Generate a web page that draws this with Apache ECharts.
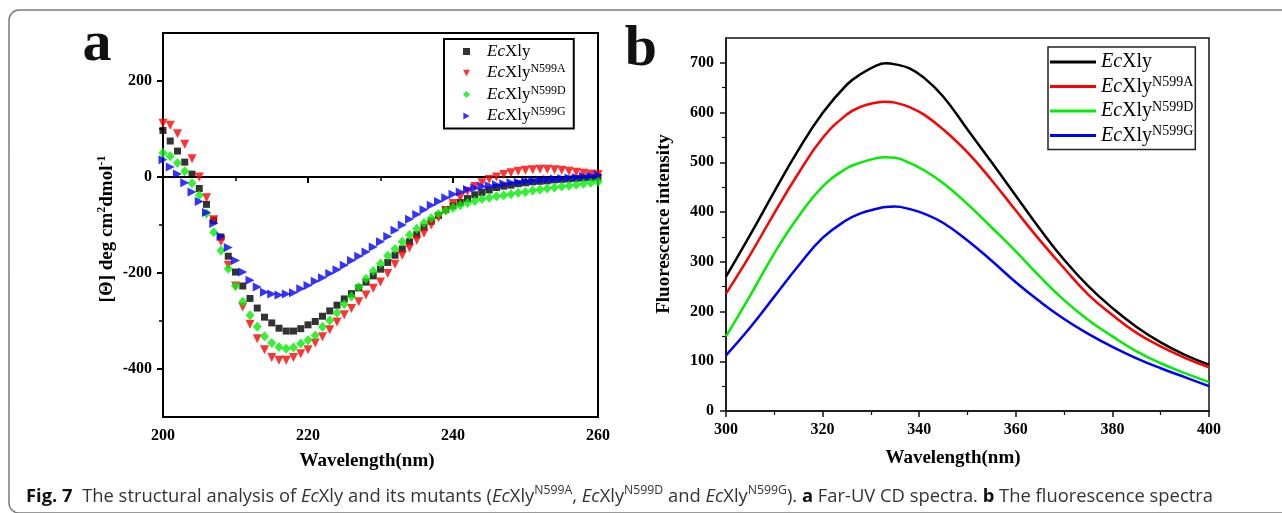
<!DOCTYPE html>
<html><head><meta charset="utf-8">
<script src="https://cdn.jsdelivr.net/npm/echarts@6/dist/echarts.min.js"></script>
<style>html,body{margin:0;padding:0;background:#fff}#c{width:1282px;height:513px}</style>
</head><body><div id="c"></div>
<script>
// ---------- Panel a: Far-UV CD spectra ----------
const cdWavelength = [200,201,202,203,204,205,206,207,208,209,210,211,212,213,214,215,216,217,218,219,220,221,222,223,224,225,226,227,228,229,230,231,232,233,234,235,236,237,238,239,240,241,242,243,244,245,246,247,248,249,250,251,252,253,254,255,256,257,258,259,260];
const cdEcXly = [97,75,54,31,6,-24,-57,-90,-125,-165,-198,-227,-253,-273,-292,-304,-315,-321,-321,-316,-308,-301,-290,-279,-267,-254,-243,-231,-219,-206,-192,-178,-163,-150,-135,-120,-105,-92,-80,-68,-60,-53,-45,-37,-32,-27,-22,-19,-17,-14,-12,-10,-9,-8,-6,-5,-4,-3,-2,-1,0];
const cdN599A = [112,108,90,68,38,0,-43,-89,-135,-184,-227,-271,-307,-337,-360,-376,-382,-382,-376,-368,-360,-346,-333,-318,-302,-287,-274,-260,-246,-232,-219,-201,-182,-163,-148,-132,-117,-100,-85,-70,-55,-42,-30,-20,-12,-5,0,5,9,12,14,15,16,16,15,14,12,10,8,6,5];
const cdN599D = [50,43,29,12,-13,-38,-76,-115,-153,-191,-227,-260,-288,-312,-332,-346,-354,-358,-355,-347,-340,-330,-312,-299,-283,-265,-249,-229,-212,-196,-180,-164,-150,-135,-121,-108,-96,-86,-77,-70,-64,-59,-54,-50,-46,-43,-40,-38,-36,-33,-31,-28,-26,-24,-22,-20,-18,-16,-14,-12,-10];
const cdN599G = [36,21,6,-12,-31,-51,-74,-97,-124,-147,-174,-198,-215,-229,-240,-244,-246,-244,-241,-233,-226,-217,-210,-201,-193,-184,-174,-165,-156,-146,-135,-124,-111,-100,-88,-78,-68,-59,-51,-43,-36,-31,-26,-23,-20,-18,-16,-14,-12,-11,-9,-8,-6,-5,-4,-3,-2,-1,1,2,4];
const cdYTicks = [-400,-200,0,200];
const cdYMinorTicks = [-300,-100,100];

// ---------- Panel b: fluorescence spectra ----------
const flWavelength = [300,305,310,315,320,325,328,331,333,335,338,341,345,350,355,360,365,370,375,380,385,390,395,400];
const flEcXly = [270,354,441,525,599,656,678,694,699,697,689,670,632,566,500,433,366,304,251,207,169,138,113,93];
const flN599A = [236,314,398,478,549,596,612,620,622,620,611,596,566,520,464,403,343,287,234,193,157,130,107,88];
const flN599D = [150,232,317,391,451,488,500,508,510,509,499,484,458,416,369,321,270,223,183,150,120,96,76,58];
const flN599G = [112,168,230,292,348,384,398,406,410,411,406,397,378,343,302,259,220,185,155,129,106,86,68,50];
const flYTicks = [0,100,200,300,400,500,600,700];
const flYMinorTicks = [50,150,250,350,450,550,650];

const seriesSup = ['', 'N599A', 'N599D', 'N599G'];
const cdNames = ['a EcXly', 'a EcXly N599A', 'a EcXly N599D', 'a EcXly N599G'];
const flNames = ['b EcXly', 'b EcXly N599A', 'b EcXly N599D', 'b EcXly N599G'];
const colors = ['#000000', '#ff0000', '#00ee00', '#0000ff'];

const SERIF = '"Liberation Serif", "Times New Roman", serif';

function legendLabel(i, spacer) {
  return (spacer ? '{g| }' : '') + '{i|Ec}{n|Xly}' + (seriesSup[i] ? '{s|' + seriesSup[i] + '}' : '');
}
function pairs(xs, ys) { return xs.map((x, i) => [x, ys[i]]); }

const tickLabel = { fontFamily: SERIF, fontWeight: 'bold', fontSize: 16, color: '#000' };

// caption segments
const captionSegs = [
  ['fb', 'Fig. 7'], ['', '  The structural analysis of '], ['it', 'Ec'], ['', 'Xly and its mutants ('],
  ['it', 'Ec'], ['', 'Xly'], ['sup', 'N599A'], ['', ', '], ['it', 'Ec'], ['', 'Xly'], ['sup', 'N599D'],
  ['', ' and '], ['it', 'Ec'], ['', 'Xly'], ['sup', 'N599G'], ['', '). '], ['b', 'a'], ['', ' Far-UV CD spectra. '],
  ['b', 'b'], ['', ' The fluorescence spectra']
];
const capFonts = {
  '': '18px "Open Sans"', fb: 'bold 18px "Open Sans"', b: 'bold 18px "Open Sans"',
  it: 'italic 18px "Open Sans"', sup: '12px "Open Sans"'
};
const mctx = document.createElement('canvas').getContext('2d');
let capWidth = 0;
captionSegs.forEach(([s, t]) => { mctx.font = capFonts[s]; capWidth += mctx.measureText(t).width; });
const capScale = 1187 / capWidth;
const captionText = captionSegs.map(([s, t]) => s ? '{' + s + '|' + t + '}' : t).join('');

const chart = echarts.init(document.getElementById('c'), null, { renderer: 'canvas' });

const scatterSymbols = [
  { symbol: 'rect', symbolSize: 7, symbolRotate: 0, icon: 'rect' },
  { symbol: 'triangle', symbolSize: 9, symbolRotate: 180, icon: 'path://M0,0L10,0L5,9Z' },
  { symbol: 'diamond', symbolSize: [9, 10], symbolRotate: 0, icon: 'diamond' },
  { symbol: 'triangle', symbolSize: 9, symbolRotate: -90, icon: 'path://M0,0L9,5L0,10Z' }
];
const cdData = [cdEcXly, cdN599A, cdN599D, cdN599G];
const flData = [flEcXly, flN599A, flN599D, flN599G];

const series = [];
cdData.forEach((vals, i) => {
  series.push({
    type: 'scatter', name: cdNames[i], xAxisIndex: 0, yAxisIndex: 0,
    data: pairs(cdWavelength, vals),
    symbol: scatterSymbols[i].symbol, symbolSize: scatterSymbols[i].symbolSize,
    symbolRotate: scatterSymbols[i].symbolRotate,
    itemStyle: { color: colors[i] }, silent: true
  });
});
flData.forEach((vals, i) => {
  series.push({
    type: 'line', name: flNames[i], xAxisIndex: 1, yAxisIndex: 2,
    data: pairs(flWavelength, vals), smooth: 0.45, symbol: 'none', showSymbol: false,
    lineStyle: { color: colors[i], width: 2.5 }, itemStyle: { color: colors[i] }, silent: true
  });
});

const axisBase = {
  axisLine: { show: true, lineStyle: { color: '#000', width: 2 } },
  splitLine: { show: false },
  minorSplitLine: { show: false }
};

chart.setOption({
  animation: false,
  backgroundColor: '#fff',
  grid: [
    { left: 163, top: 33, width: 435, height: 384, show: true, borderColor: '#000', borderWidth: 2, backgroundColor: 'transparent' },
    { left: 726, top: 38, width: 483, height: 373, show: true, borderColor: '#111', borderWidth: 1.5, backgroundColor: 'transparent' }
  ],
  xAxis: [
    Object.assign({}, axisBase, {
      type: 'value', gridIndex: 0, min: 200, max: 260, interval: 20,
      axisTick: { show: true, inside: false, length: 6, lineStyle: { color: '#000', width: 2 } },
      minorTick: { show: true, splitNumber: 2, length: 4, lineStyle: { color: '#000', width: 1.5 } },
      axisLabel: Object.assign({ margin: 11 }, tickLabel)
    }),
    Object.assign({}, axisBase, {
      type: 'value', gridIndex: 1, min: 300, max: 400, interval: 20,
      axisLine: { show: true, lineStyle: { color: '#111', width: 1.5 } },
      axisTick: { show: true, inside: false, length: 6, lineStyle: { color: '#111', width: 1.5 } },
      minorTick: { show: true, splitNumber: 2, length: 4, lineStyle: { color: '#111', width: 1.2 } },
      axisLabel: Object.assign({ margin: 11 }, tickLabel)
    })
  ],
  yAxis: [
    Object.assign({}, axisBase, {
      type: 'value', gridIndex: 0, position: 'left', min: -500, max: 300, interval: 100,
      axisTick: { show: true, inside: false, length: 6, customValues: cdYTicks, lineStyle: { color: '#000', width: 2 } },
      axisLabel: Object.assign({ margin: 11, customValues: cdYTicks }, tickLabel)
    }),
    {
      type: 'value', gridIndex: 0, position: 'left', min: -500, max: 300, interval: 100,
      axisLine: { show: false }, splitLine: { show: false }, axisLabel: { show: false },
      axisTick: { show: true, inside: false, length: 4, customValues: cdYMinorTicks, lineStyle: { color: '#000', width: 1.5 } }
    },
    Object.assign({}, axisBase, {
      type: 'value', gridIndex: 1, position: 'left', min: 0, max: 750, interval: 100,
      axisLine: { show: true, lineStyle: { color: '#111', width: 1.5 } },
      axisTick: { show: true, inside: false, length: 6, customValues: flYTicks, lineStyle: { color: '#111', width: 1.5 } },
      axisLabel: Object.assign({ margin: 12, customValues: flYTicks }, tickLabel)
    }),
    {
      type: 'value', gridIndex: 1, position: 'left', min: 0, max: 750, interval: 100,
      axisLine: { show: false }, splitLine: { show: false }, axisLabel: { show: false },
      axisTick: { show: true, inside: false, length: 4, customValues: flYMinorTicks, lineStyle: { color: '#111', width: 1.2 } }
    }
  ],
  legend: [
    {
      orient: 'vertical', left: 444, top: 39, padding: [4, 8, 4, 19], itemGap: 3,
      itemWidth: 7, itemHeight: 7, borderColor: '#000', borderWidth: 2,
      backgroundColor: '#fff', selectedMode: false,
      data: cdNames.map((n, i) => ({ name: n, icon: scatterSymbols[i].icon })),
      formatter: name => legendLabel(cdNames.indexOf(name), true),
      textStyle: {
        rich: {
          g: { width: 12, fontSize: 10, lineHeight: 20 },
          i: { fontFamily: SERIF, fontStyle: 'italic', fontSize: 17, lineHeight: 20, color: '#000' },
          n: { fontFamily: SERIF, fontSize: 17, lineHeight: 20, color: '#000' },
          s: { fontFamily: SERIF, fontSize: 12, lineHeight: 12, verticalAlign: 'top', color: '#000' }
        }
      }
    },
    {
      orient: 'vertical', left: 1048, top: 47, padding: [5, 2, 4, 2], itemGap: 3.5,
      icon: 'rect', itemWidth: 46, itemHeight: 3, borderColor: '#222', borderWidth: 1.5,
      backgroundColor: '#fff', selectedMode: false, data: flNames,
      formatter: name => legendLabel(flNames.indexOf(name), false),
      textStyle: {
        rich: {
          i: { fontFamily: SERIF, fontStyle: 'italic', fontSize: 20, lineHeight: 22, color: '#000' },
          n: { fontFamily: SERIF, fontSize: 20, lineHeight: 22, color: '#000' },
          s: { fontFamily: SERIF, fontSize: 14, lineHeight: 14, verticalAlign: 'top', color: '#000' }
        }
      }
    }
  ],
  graphic: [
    { type: 'rect', shape: { x: 9, y: 10, width: 1300, height: 503, r: 10 }, style: { fill: 'none', stroke: '#7a7a7a', lineWidth: 1.5 }, z: -10, silent: true },
    { type: 'text', x: 97, y: 45, style: { text: 'a', font: 'bold 58px ' + SERIF, fill: '#111', align: 'center', verticalAlign: 'middle' }, silent: true },
    { type: 'text', x: 641, y: 50, style: { text: 'b', font: 'bold 58px ' + SERIF, fill: '#111', align: 'center', verticalAlign: 'middle' }, silent: true },
    { type: 'text', x: 367, y: 461, style: { text: 'Wavelength(nm)', font: 'bold 19px ' + SERIF, fill: '#000', align: 'center', verticalAlign: 'middle' }, silent: true },
    { type: 'text', x: 953, y: 458, style: { text: 'Wavelength(nm)', font: 'bold 19px ' + SERIF, fill: '#000', align: 'center', verticalAlign: 'middle' }, silent: true },
    { type: 'text', x: 664, y: 224, rotation: Math.PI / 2, style: { text: 'Fluorescence intensity', font: 'bold 19px ' + SERIF, fill: '#000', align: 'center', verticalAlign: 'middle' }, silent: true },
    { type: 'text', x: 107, y: 229, rotation: Math.PI / 2,
      style: {
        text: '{m|[Θ] deg cm}{p|2}{m|dmol}{p|-1}', align: 'center', verticalAlign: 'middle',
        rich: {
          m: { fontFamily: SERIF, fontWeight: 'bold', fontSize: 19, lineHeight: 22, fill: '#000' },
          p: { fontFamily: SERIF, fontWeight: 'bold', fontSize: 12, lineHeight: 12, verticalAlign: 'top', fill: '#000' }
        }
      }, silent: true },
    { type: 'text', x: 26, y: 497, scaleX: capScale, scaleY: 1,
      style: {
        text: captionText, align: 'left', verticalAlign: 'middle',
        fontFamily: '"Open Sans"', fontSize: 18, lineHeight: 24, fill: '#333',
        rich: {
          fb: { fontFamily: '"Open Sans"', fontWeight: 'bold', fontSize: 18, lineHeight: 24, fill: '#111' },
          b: { fontFamily: '"Open Sans"', fontWeight: 'bold', fontSize: 18, lineHeight: 24, fill: '#111' },
          it: { fontFamily: '"Open Sans"', fontStyle: 'italic', fontSize: 18, lineHeight: 24, fill: '#333' },
          sup: { fontFamily: '"Open Sans"', fontSize: 12, lineHeight: 14, verticalAlign: 'top', fill: '#333' }
        }
      }, silent: true }
  ],
  series: series
});
</script>
</body></html>
